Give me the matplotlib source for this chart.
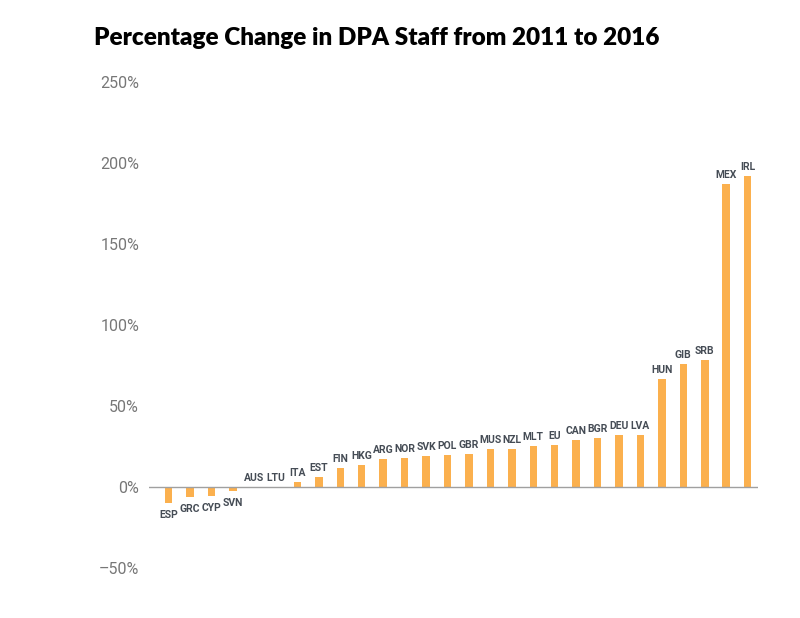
import numpy as np
import matplotlib.pyplot as plt

countries = ["ESP", "GRC", "CYP", "SVN", "AUS", "LTU", "ITA", "EST", "FIN", "HKG",
             "ARG", "NOR", "SVK", "POL", "GBR", "MUS", "NZL", "MLT", "EU", "CAN",
             "BGR", "DEU", "LVA", "HUN", "GIB", "SRB", "MEX", "IRL"]
change = [-9.7, -6.0, -5.7, -2.5, 0.0, 0.0, 3.0, 6.2, 11.7, 13.6,
          17.0, 17.9, 19.1, 19.8, 20.4, 23.5, 23.5, 25.3, 25.9, 29.0,
          30.2, 32.1, 32.1, 66.5, 75.9, 78.2, 187.2, 192.2]
yticks = [-50, 0, 50, 100, 150, 200, 250]

plt.rcParams['font.family'] = ['Lato', 'DejaVu Sans']

fig = plt.figure(figsize=(8, 6.18), dpi=100)
ax = fig.add_axes([0.186, 0.081, 0.762, 0.786])

x = np.arange(len(countries))
ax.bar(x, change, width=0.35, color='#fbb04e', zorder=2)

# country codes above (or below for drops)
for xi, v, name in zip(x, change, countries):
    off, va = ((0, -5), 'top') if v < 0 else ((0, 3), 'bottom')
    ax.annotate(name, (xi, v), xytext=off, textcoords='offset points',
                ha='center', va=va, fontsize=7.5, fontweight='bold',
                color='#454c55', family=['Roboto', 'DejaVu Sans'])

ax.axhline(0, color='#a0a0a0', lw=1, zorder=3)
ax.set_xlim(-0.93, 27.5)
ax.set_ylim(-50, 250)
ax.set_yticks(yticks)
ax.set_yticklabels([f"{t}%".replace('-', '\u2013') for t in yticks],
                   fontsize=11.5, color='#777777', family=['Roboto', 'DejaVu Sans'])
ax.set_xticks([])
ax.tick_params(axis='y', length=0, pad=7)
for s in ax.spines.values():
    s.set_visible(False)

fig.text(0.118, 0.938, "Percentage Change in DPA Staff from 2011 to 2016",
         fontsize=17.5, fontweight='heavy', color='black', va='center', ha='left')

fig.savefig("out.png", dpi=100)
